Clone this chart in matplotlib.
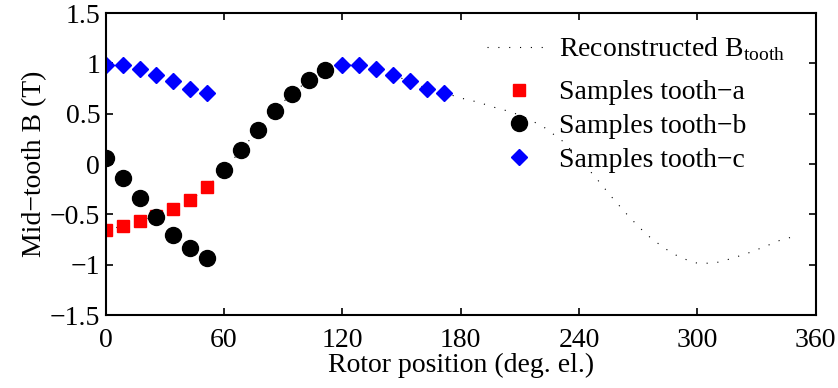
import matplotlib
matplotlib.use('Agg')
import matplotlib.pyplot as plt
import numpy as np

plt.rcParams['font.family'] = ['Liberation Serif', 'DejaVu Serif']
plt.rcParams['mathtext.fontset'] = 'custom'
plt.rcParams['mathtext.rm'] = 'Liberation Serif'
plt.rcParams['font.size'] = 20

# sample positions within one 60 deg sector (7 samples)
theta = np.arange(7) * 60 / 7

# mid-tooth flux density samples (T)
tooth_a = np.array([-0.656, -0.616, -0.563, -0.517, -0.45, -0.358, -0.232])
tooth_b = np.array([0.056, -0.136, -0.34, -0.53, -0.70, -0.83, -0.93])
tooth_c = np.array([0.985, 0.985, 0.94, 0.885, 0.82, 0.75, 0.71])

# six-step reconstruction over one electrical period
rec_x = np.concatenate([theta + 60 * k for k in range(6)])
rec_y = np.concatenate([tooth_a, -tooth_b, tooth_c, -tooth_a, tooth_b, -tooth_c])

fig = plt.figure(figsize=(8.38, 3.88), dpi=100)
ax = fig.add_axes([0.1262, 0.188, 0.8470, 0.7784])

rec, = ax.plot(rec_x, rec_y, color='k', lw=0.8, dashes=(1, 8.75),
               label=r'Reconstructed B$_{\rm tooth}$')
sa, = ax.plot(theta, tooth_a, ls='none', marker='s', ms=8.6, color='r',
              label='Samples tooth\u2212a')
sb, = ax.plot(np.concatenate([theta, theta + 60]),
              np.concatenate([tooth_b, -tooth_b]), ls='none', marker='o',
              ms=11.5, color='k', label='Samples tooth\u2212b')
sc, = ax.plot(np.concatenate([theta, theta + 120]),
              np.concatenate([tooth_c, tooth_c]), ls='none', marker='D',
              ms=8.3, color='b', label='Samples tooth\u2212c')

ax.set_xlim(0, 360)
ax.set_ylim(-1.5, 1.5)
ax.set_xticks(np.arange(0, 361, 60))
ax.set_yticks([-1.5, -1, -0.5, 0, 0.5, 1, 1.5])
ax.set_yticklabels(['\u22121.5', '\u22121', '\u22120.5', '0', '0.5', '1', '1.5'])
ax.tick_params(direction='in', length=5, width=1.2, top=True, right=True,
               labelsize=20)
ax.tick_params(axis='x', pad=9)
ax.tick_params(axis='y', pad=4)
for s in ax.spines.values():
    s.set_linewidth(1.5)

ax.set_xlabel('Rotor position (deg. el.)', labelpad=0)
ax.set_ylabel('Mid\u2212tooth B (T)', labelpad=2)

# legend in two parts (the subscript row sits higher in the original)
leg_kw = dict(loc='upper left', frameon=False, handlelength=2.3,
              handletextpad=0.3, labelspacing=0.3, borderpad=0,
              borderaxespad=0, fontsize=20)
leg1 = ax.legend(handles=[rec], bbox_to_anchor=(0.537, 0.925), **leg_kw)
ax.add_artist(leg1)
ax.legend(handles=[sa, sb, sc], bbox_to_anchor=(0.537, 0.779), **leg_kw)

fig.savefig('out.png', dpi=100)
